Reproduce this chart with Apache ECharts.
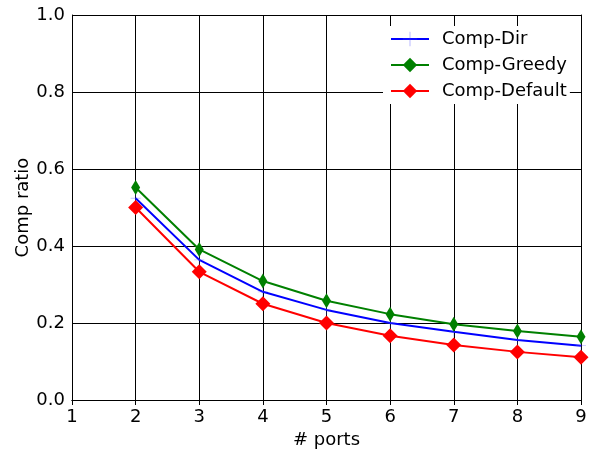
<!DOCTYPE html>
<html><head><meta charset="utf-8">
<script src="https://cdn.jsdelivr.net/npm/echarts@6/dist/echarts.min.js"></script>
<style>html,body{margin:0;padding:0;background:#fff}#c{width:592px;height:454px}</style>
</head><body><div id="c"></div>
<script>
const ports = [2, 3, 4, 5, 6, 7, 8, 9];
const compDir = [0.524, 0.364, 0.281, 0.234, 0.200, 0.177, 0.156, 0.141];
const compGreedy = [0.552, 0.391, 0.309, 0.258, 0.223, 0.197, 0.179, 0.164];
const compDefault = [0.500, 0.333, 0.250, 0.200, 0.167, 0.143, 0.125, 0.111];
const xTicks = [1, 2, 3, 4, 5, 6, 7, 8, 9];
const yTicks = [0.0, 0.2, 0.4, 0.6, 0.8, 1.0];

const font = 'DejaVu Sans';
const fs = 18;
const pair = arr => ports.map((p, i) => [p, arr[i]]);
const chart = echarts.init(document.getElementById('c'));
const axisLine = {show: true, lineStyle: {color: '#000', width: 1}};
const tick = {show: true, inside: true, length: 5, lineStyle: {color: '#000'}};
const grid = {show: true, lineStyle: {color: '#000', width: 1, type: 'solid'}};
const plus = 'path://M0,4.6L10,4.6L10,5.4L0,5.4Z M4.6,0L5.4,0L5.4,10L4.6,10Z';
chart.setOption({
  animation: false,
  backgroundColor: '#fff',
  textStyle: {fontFamily: font},
  grid: {left: 72, right: 11, top: 15, bottom: 53, containLabel: false},
  xAxis: [{
    type: 'value', min: xTicks[0], max: xTicks[xTicks.length - 1], interval: 1,
    axisLine, axisTick: tick, splitLine: grid,
    axisLabel: {color: '#000', fontSize: fs, fontFamily: font, margin: 8},
    name: '# ports', nameLocation: 'middle', nameGap: 31, nameMoveOverlap: false,
    nameTextStyle: {color: '#000', fontSize: fs, fontFamily: font}
  }, {
    type: 'value', position: 'top', min: 1, max: 9, interval: 1,
    axisLine, axisTick: tick, splitLine: {show: false}, axisLabel: {show: false}
  }],
  yAxis: [{
    type: 'value', min: yTicks[0], max: yTicks[yTicks.length - 1], interval: 0.2,
    axisLine, axisTick: tick, splitLine: grid,
    axisLabel: {color: '#000', fontSize: fs, fontFamily: font, margin: 7,
      formatter: v => v.toFixed(1)},
    name: 'Comp ratio', nameLocation: 'middle', nameGap: 40, nameMoveOverlap: false,
    nameTextStyle: {color: '#000', fontSize: fs, fontFamily: font}
  }, {
    type: 'value', position: 'right', min: 0, max: 1, interval: 0.2,
    axisLine, axisTick: tick, splitLine: {show: false}, axisLabel: {show: false}
  }],
  legend: {
    left: 383, top: 26, orient: 'vertical', backgroundColor: '#fff',
    padding: [4, 3, 4, 7], itemGap: 8, itemWidth: 38, itemHeight: 18,
    textStyle: {fontSize: fs, fontFamily: font, color: '#000', padding: [0, 0, 0, 8]},
    data: ['Comp-Dir', 'Comp-Greedy', 'Comp-Default']
  },
  series: [
    {name: 'Comp-Dir', type: 'line', data: pair(compDir), symbol: plus, symbolSize: 10,
      lineStyle: {color: '#0000ff', width: 2}, itemStyle: {color: 'rgba(80,80,255,0.35)'}, z: 3},
    {name: 'Comp-Greedy', type: 'line', data: pair(compGreedy), symbol: 'diamond',
      symbolSize: [9, 15], lineStyle: {color: '#008000', width: 2},
      itemStyle: {color: '#008000'}, z: 4},
    {name: 'Comp-Default', type: 'line', data: pair(compDefault), symbol: 'diamond',
      symbolSize: [15, 15], lineStyle: {color: '#ff0000', width: 2},
      itemStyle: {color: '#ff0000'}, z: 5}
  ]
});
</script></body></html>
